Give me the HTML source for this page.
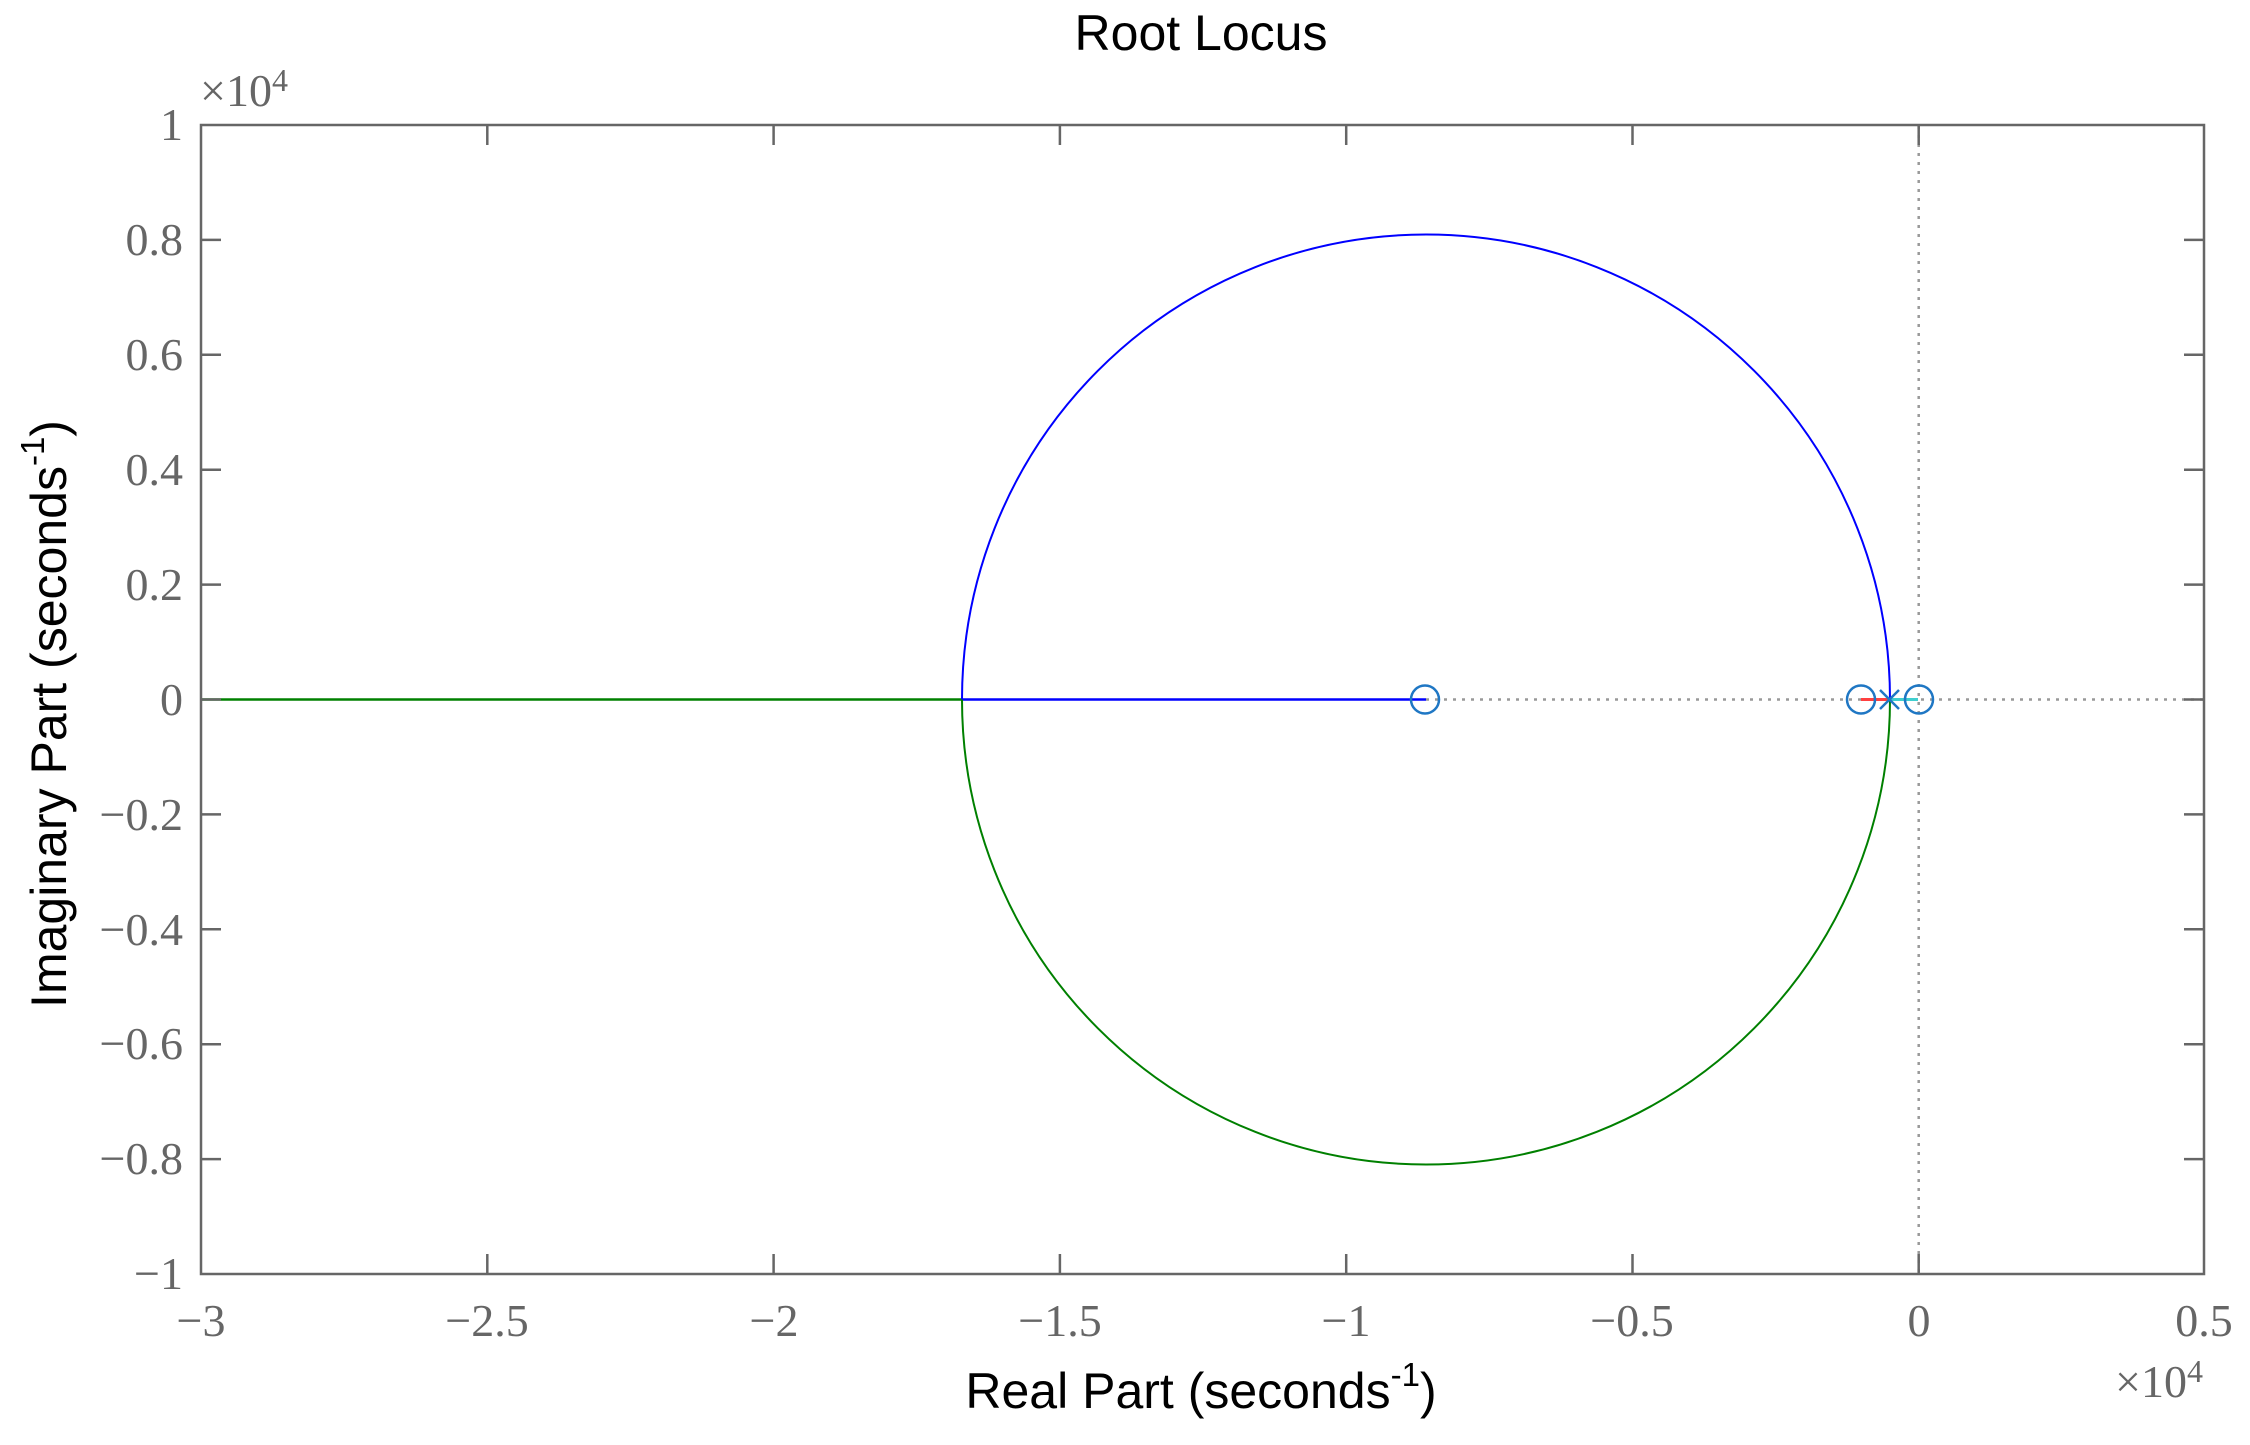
<!DOCTYPE html>
<html><head><meta charset="utf-8"><style>
html,body{margin:0;padding:0;background:#fff;}
svg{display:block;}
.t{font-family:"Liberation Serif",serif;fill:#666;font-size:46px;}
.s{font-family:"Liberation Sans",sans-serif;fill:#000;}
</style></head><body>
<svg width="2250" height="1445" viewBox="0 0 2250 1445" xmlns="http://www.w3.org/2000/svg">
<rect width="2250" height="1445" fill="#fff"/>
<line x1="1426" y1="699.5" x2="2204" y2="699.5" stroke="#999" stroke-width="2.5" stroke-dasharray="3,6"/>
<line x1="1918.7" y1="126" x2="1918.7" y2="1273" stroke="#999" stroke-width="2.5" stroke-dasharray="3,6"/>
<line x1="202" y1="699.5" x2="962" y2="699.5" stroke="#008000" stroke-width="2.5"/>
<line x1="962" y1="699.5" x2="1426" y2="699.5" stroke="#0000ff" stroke-width="2.5"/>
<path d="M962,699.5 A464,465 0 0 1 1890,699.5" fill="none" stroke="#0000ff" stroke-width="2"/>
<path d="M962,699.5 A464,465 0 0 0 1890,699.5" fill="none" stroke="#008000" stroke-width="2"/>
<line x1="1861" y1="699.5" x2="1890" y2="699.5" stroke="#ff4040" stroke-width="3"/>
<line x1="1890" y1="699.5" x2="1918" y2="699.5" stroke="#40cfcf" stroke-width="3"/>
<g fill="none" stroke="#1f77c4" stroke-width="2.5">
<circle cx="1425" cy="699.5" r="14"/>
<circle cx="1861" cy="699.5" r="14"/>
<circle cx="1919" cy="699.5" r="14"/>
<line x1="1880" y1="690" x2="1899" y2="709"/>
<line x1="1880" y1="709" x2="1899" y2="690"/>
</g>
<rect x="201" y="125" width="2003" height="1149" fill="none" stroke="#666" stroke-width="2.5"/>
<g stroke="#666" stroke-width="2.5">
<line x1="487.3" y1="125" x2="487.3" y2="145"/><line x1="487.3" y1="1274" x2="487.3" y2="1254"/>
<line x1="773.6" y1="125" x2="773.6" y2="145"/><line x1="773.6" y1="1274" x2="773.6" y2="1254"/>
<line x1="1059.9" y1="125" x2="1059.9" y2="145"/><line x1="1059.9" y1="1274" x2="1059.9" y2="1254"/>
<line x1="1346.2" y1="125" x2="1346.2" y2="145"/><line x1="1346.2" y1="1274" x2="1346.2" y2="1254"/>
<line x1="1632.5" y1="125" x2="1632.5" y2="145"/><line x1="1632.5" y1="1274" x2="1632.5" y2="1254"/>
<line x1="1918.7" y1="125" x2="1918.7" y2="145"/><line x1="1918.7" y1="1274" x2="1918.7" y2="1254"/>
<line x1="201" y1="239.9" x2="221" y2="239.9"/><line x1="2204" y1="239.9" x2="2184" y2="239.9"/>
<line x1="201" y1="354.8" x2="221" y2="354.8"/><line x1="2204" y1="354.8" x2="2184" y2="354.8"/>
<line x1="201" y1="469.7" x2="221" y2="469.7"/><line x1="2204" y1="469.7" x2="2184" y2="469.7"/>
<line x1="201" y1="584.6" x2="221" y2="584.6"/><line x1="2204" y1="584.6" x2="2184" y2="584.6"/>
<line x1="201" y1="699.5" x2="221" y2="699.5"/><line x1="2204" y1="699.5" x2="2184" y2="699.5"/>
<line x1="201" y1="814.4" x2="221" y2="814.4"/><line x1="2204" y1="814.4" x2="2184" y2="814.4"/>
<line x1="201" y1="929.3" x2="221" y2="929.3"/><line x1="2204" y1="929.3" x2="2184" y2="929.3"/>
<line x1="201" y1="1044.2" x2="221" y2="1044.2"/><line x1="2204" y1="1044.2" x2="2184" y2="1044.2"/>
<line x1="201" y1="1159.1" x2="221" y2="1159.1"/><line x1="2204" y1="1159.1" x2="2184" y2="1159.1"/>
</g>
<g class="t" text-anchor="end">
<text x="183" y="140">1</text>
<text x="183" y="255">0.8</text>
<text x="183" y="370">0.6</text>
<text x="183" y="485">0.4</text>
<text x="183" y="600">0.2</text>
<text x="183" y="715">0</text>
<text x="183" y="830">−0.2</text>
<text x="183" y="945">−0.4</text>
<text x="183" y="1059">−0.6</text>
<text x="183" y="1174">−0.8</text>
<text x="183" y="1289">−1</text>
</g>
<g class="t" text-anchor="middle">
<text x="201" y="1336">−3</text>
<text x="487" y="1336">−2.5</text>
<text x="774" y="1336">−2</text>
<text x="1060" y="1336">−1.5</text>
<text x="1346" y="1336">−1</text>
<text x="1632" y="1336">−0.5</text>
<text x="1919" y="1336">0</text>
<text x="2204" y="1336">0.5</text>
</g>
<text class="t" x="200" y="106">×10<tspan font-size="32" dy="-15">4</tspan></text>
<text class="t" x="2115" y="1397">×10<tspan font-size="32" dy="-15">4</tspan></text>
<text class="s" x="1201" y="50" font-size="50" text-anchor="middle">Root Locus</text>
<text class="s" x="1201" y="1408" font-size="50" text-anchor="middle">Real Part (seconds<tspan font-size="33" dy="-22">-1</tspan><tspan dy="22">)</tspan></text>
<text class="s" transform="translate(66,714) rotate(-90)" font-size="50" text-anchor="middle">Imaginary Part (seconds<tspan font-size="33" dy="-22">-1</tspan><tspan dy="22">)</tspan></text>
</svg>
</body></html>
